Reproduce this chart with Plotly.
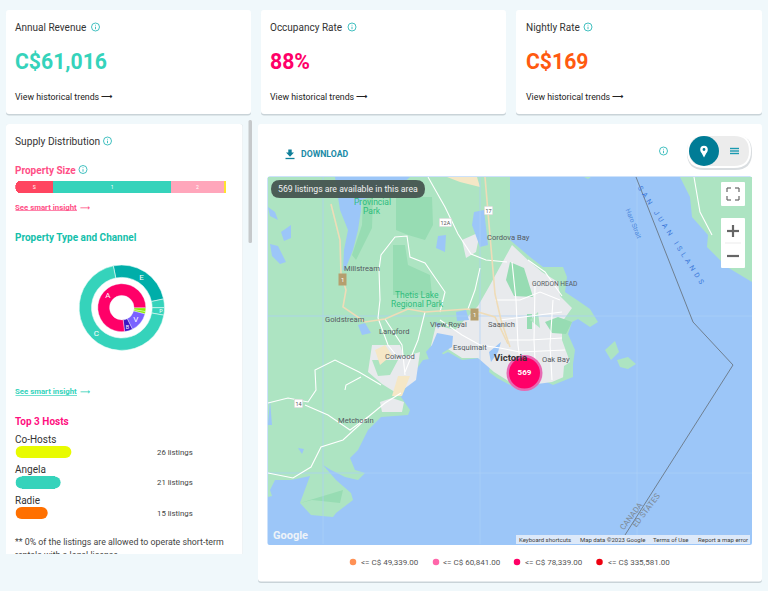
import plotly.graph_objects as go

# ---------- chart data ----------
kpi_titles = ["Annual Revenue", "Occupancy Rate", "Nightly Rate"]
kpi_values = ["C$61,016", "88%", "C$169"]
size_labels = ["S", "1", "2", ""]
size_values = [18, 56, 25, 1]
outer_labels = ["E", "", "P", "C"]
outer_values = [24.9, 3.3, 2.8, 69.0]
inner_labels = ["", " ", "V", "B", "A"]
inner_values = [2.6, 1.6, 13.5, 5.5, 76.8]
host_names = ["Co-Hosts", "Angela", "Radie"]
host_listings = [26, 21, 15]
legend_labels = ["<= C$ 49,339.00", "<= C$ 60,841.00", "<= C$ 78,339.00", "<= C$ 335,581.00"]
cluster_count = [569]

# ---------- base-map geography (decorative, in map pixels) ----------
land_main = [(268,177),(510,177),(510,240),(530,257),(543,267),(563,267),(567,277),(565,292),(577,300),(590,309),(598,322),(590,327),(578,319),(572,322),(568,334),(575,350),(573,364),(573,377),(553,385),(543,380),(530,388),(512,386),(497,378),(489,372),(490,366),(505,362),(495,355),(480,358),(462,360),(448,352),(436,358),(423,360),(411,377),(401,397),(410,410),(408,415),(381,417),(368,430),(358,450),(350,458),(355,470),(365,473),(358,480),(345,477),(331,470),(323,465),(336,480),(351,493),(353,500),(336,513),(333,517),(311,515),(300,503),(310,476),(291,480),(275,480),(270,490),(272,496),(268,497)]
land_east = [(680,177),(690,197),(692,217),(708,235),(707,247),(727,267),(752,282),(752,177)]
islets = [[(605,350),(615,341),(619,352),(611,360)],[(617,360),(628,357),(636,364),(628,369),(620,367)],[(584,177),(591,177),(588,179)]]
parks = [[(363,197),(373,197),(372,228),(356,260),(352,255),(362,225)],
         [(396,197),(432,197),(433,225),(425,240),(408,235),(396,230)],
         [(393,245),(405,245),(408,265),(430,275),(432,295),(393,295)],
         [(510,262),(524,268),(533,297),(514,296),(506,280)],
         [(545,322),(558,317),(572,322),(566,334),(552,333)],
         [(527,314),(532,314),(532,329),(527,329)],
         [(343,490),(300,503),(312,500),(340,503)]]
urban = [[(455,330),(478,306),(490,285),(505,258),(512,245),(530,262),(542,272),(558,282),(560,296),(572,308),(562,322),(562,340),(570,362),(566,376),(552,382),(530,385),(510,382),(494,372),(478,358),(462,358),(448,349),(430,350),(436,325)],
         [(372,345),(400,345),(408,368),(398,394),(382,384),(368,372)],
         [(386,362),(420,352),(416,380),(400,392)],
         [(380,402),(392,398),(404,402),(402,412),(382,412)],
         [(462,240),(480,232),(476,252),(466,258)]]
beige = [[(447,177),(477,177),(480,187),(460,182)],[(398,376),(410,376),(402,396),(392,396)],[(375,350),(385,345),(392,355),(380,365)]]
green_in_urban = [[(372,360),(398,360),(390,375),(378,376)],[(530,320),(538,312),(540,328)],[(564,366),(570,362),(571,376),(563,378)]]
water_bits = [[(335,177),(410,177),(395,190),(361,200),(361,210),(358,230),(353,250),(345,270),(343,270),(344,250),(348,230),(340,210)],
              [(270,244),(278,246),(286,262),(280,264),(272,256)],[(281,232),(291,225),(291,238),(284,241)],[(268,207),(275,212),(278,220),(270,216)],
              [(438,236),(446,235),(445,252),(436,248)],[(474,212),(484,210),(488,245),(480,247),(472,225)],
              [(358,325),(365,323),(371,333),(362,335)],[(456,312),(466,310),(469,320),(457,321)],
              [(435,322),(441,324),(438,329)],[(437,333),(453,336),(452,347),(442,353),(446,359),(430,362),(426,352),(432,345)],
              [(489,352),(501,342),(498,352),(491,362)],[(298,448),(304,449),(302,454)],[(270,400),(272,425),(268,425)]]
highways = [[(331,204),(340,240),(341,274),(346,290),(343,307),(365,322),(385,319),(408,309),(425,312),(468,309),(495,317),(508,344)],
            [(485,177),(491,244),(495,294),(501,320),(510,347)]]
roads = [[(428,177),(445,207),(458,234),(471,254),(486,260),(507,262)],
         [(379,270),(381,255),(395,237),(407,236),(410,257),(425,263),(445,292),(440,312)],
         [(379,270),(380,300),(378,318)],
         [(268,403),(288,398),(308,402),(316,390),(315,370),(335,360),(359,372),(381,385)],
         [(305,405),(328,415),(350,430),(368,417),(385,403),(401,393)],
         [(368,417),(343,440),(321,447),(311,467),(293,478),(268,473)],
         [(345,390),(346,385),(361,377)],
         [(378,318),(388,345),(400,360)],[(385,319),(402,345),(405,375)],
         [(468,309),(475,290),(480,268)],[(425,312),(418,340),(405,372)],
         [(495,300),(520,300),(540,292),(560,300)],[(500,320),(530,316),(562,312)],[(505,340),(530,340),(562,338)],
         [(480,345),(500,348),(520,352),(565,350)],[(512,262),(516,300),(518,345),(522,375)],[(535,285),(534,340),(536,382)],[(553,300),(550,345),(552,380)],
         [(440,320),(462,335),(480,345)],[(694,177),(700,212),(712,235)],[(528,260),(545,272),(562,296)]]
boundary = [(636,177),(693,322),(733,365),(625,535)]
grid_lines = [[(323,177),(323,544)],[(480,177),(480,544)],[(637,177),(637,544)],[(268,316),(752,316)],[(268,473),(752,473)]]

def xs(p): return [q[0] for q in p]
def ys(p): return [q[1] for q in p]
def joined(paths, close=False):
    X, Y = [], []
    for p in paths:
        X += xs(p) + ([p[0][0]] if close else []) + [None]
        Y += ys(p) + ([p[0][1]] if close else []) + [None]
    return X, Y

W, H = 768, 591
TEAL = "#35d3bb"
fig = go.Figure()

def fill(paths, color):
    X, Y = joined(paths, True)
    fig.add_trace(go.Scatter(x=X, y=Y, mode="lines", fill="toself", fillcolor=color,
                             line=dict(width=0, color=color), hoverinfo="skip", showlegend=False))
def stroke(paths, color, width):
    X, Y = joined(paths)
    fig.add_trace(go.Scatter(x=X, y=Y, mode="lines", line=dict(width=width, color=color),
                             hoverinfo="skip", showlegend=False))

fill([land_main, land_east] + islets, "#ade4c2")
fill(urban, "#e8eaed")
fill(parks, "#97dcb3")
fill(green_in_urban, "#ade4c2")
fill(beige, "#f5e7c6")
fill(water_bits, "#9cc6f8")
stroke(grid_lines, "#aed0f8", 0.7)
stroke(roads, "#ffffff", 1.1)
stroke(highways, "#efdcb8", 1.6)
stroke([boundary], "#6f7f90", 1)

# cluster marker
fig.add_trace(go.Scatter(x=[524.5], y=[373], mode="markers", marker=dict(size=36, color="#e76ab3"),
                         hoverinfo="skip", showlegend=False))
fig.add_trace(go.Scatter(x=[524.5], y=[373], mode="markers+text", text=[str(v) for v in cluster_count],
                         textposition="middle center", textfont=dict(family="Roboto", size=8, color="white", weight="bold"),
                         marker=dict(size=31, color="#ff0068"), hoverinfo="skip", showlegend=False))

# legend row
legend_x = [353, 436, 517, 599.5]
legend_c = ["#ff9155", "#ff66aa", "#ff0066", "#ee0010"]
fig.add_trace(go.Scatter(x=legend_x, y=[562]*4, mode="markers", marker=dict(size=6.5, color=legend_c),
                         hoverinfo="skip", showlegend=False))

# clipped final line of the scrolling card (real text behind the cover shape)
fig.add_trace(go.Scatter(x=[15], y=[556], mode="text", text=["rentals with a legal license"], textposition="middle right",
                         textfont=dict(family="Roboto", size=8.8, color="#444"), hoverinfo="skip", showlegend=False))

# property size stacked bar (axis reversed so the rounded end falls on the left)
size_colors = ["#ff4560", TEAL, "#ffa6bb", "#ffe22e"]
for lab, val, col in reversed(list(zip(size_labels, size_values, size_colors))):
    fig.add_trace(go.Bar(x=[val], y=[0], orientation="h", xaxis="x2", yaxis="y2", width=1,
                         marker=dict(color=col, line=dict(width=0), cornerradius=5), text=[lab], textposition="inside",
                         insidetextanchor="middle", textangle=0, textfont=dict(family="Roboto", size=8.5, color="white"),
                         hoverinfo="skip", showlegend=False))

# host bars: a round cap sits on both ends of each bar
host_colors = ["#e8fb00", TEAL, "#ff7000"]
cap = 2.8
fig.add_trace(go.Bar(x=[v-2*cap for v in host_listings], y=host_names, base=[cap]*3, orientation="h", xaxis="x3", yaxis="y3", width=0.394,
                     marker=dict(color=host_colors, line=dict(width=0), cornerradius=0), hoverinfo="skip", showlegend=False))
fig.add_trace(go.Scatter(x=[cap]*3 + [v-cap for v in host_listings], y=host_names*2, mode="markers", xaxis="x3", yaxis="y3",
                         marker=dict(size=12, color=host_colors*2, line=dict(width=0)), hoverinfo="skip", showlegend=False))

# donuts
cx, cy = 121.8, 307.7
def dom(r):
    return dict(x=[(cx-r)/W, (cx+r)/W], y=[1-(cy+r)/H, 1-(cy-r)/H])
fig.add_trace(go.Pie(values=outer_values, labels=outer_labels, text=outer_labels, textinfo="text", domain=dom(42.7), hole=0.71,
                     sort=False, direction="clockwise", rotation=348.5, insidetextorientation="horizontal", textposition="inside",
                     marker=dict(colors=["#00aea9", TEAL, TEAL, TEAL], line=dict(color="#e8fbf8", width=0.6)),
                     textfont=dict(family="Roboto", size=8, color="white"), hoverinfo="skip", showlegend=False))
fig.add_trace(go.Pie(values=inner_values, labels=inner_labels, text=inner_labels, textinfo="text", domain=dom(24), hole=0.51,
                     sort=False, direction="clockwise", rotation=90, insidetextorientation="horizontal", textposition="inside",
                     marker=dict(colors=["#8cee00", "#8cee00", "#7a62ff", "#3b17c4", "#ff0068"], line=dict(color="#f4f4ff", width=0.4)),
                     textfont=dict(family="Roboto", size=8, color="white"), hoverinfo="skip", showlegend=False))

# ---------- page furniture ----------
shapes = []
def rrect(x0, y0, x1, y1, r):
    return (f"M{x0+r},{y0} L{x1-r},{y0} Q{x1},{y0} {x1},{y0+r} L{x1},{y1-r} Q{x1},{y1} {x1-r},{y1} "
            f"L{x0+r},{y1} Q{x0},{y1} {x0},{y1-r} L{x0},{y0+r} Q{x0},{y0} {x0+r},{y0} Z")
def box(x0, y0, x1, y1, r, color, layer="below", line=None, lw=0):
    shapes.append(dict(type="path", path=rrect(x0, y0, x1, y1, r), fillcolor=color, layer=layer,
                       line=dict(color=line or color, width=lw), xref="x", yref="y"))
def circ(cx_, cy_, r, color, layer="above", line=None, lw=0):
    shapes.append(dict(type="circle", x0=cx_-r, x1=cx_+r, y0=cy_-r, y1=cy_+r, fillcolor=color, layer=layer,
                       line=dict(color=line or color, width=lw), xref="x", yref="y"))
def seg(x0, y0, x1, y1, color, w=1):
    shapes.append(dict(type="line", x0=x0, y0=y0, x1=x1, y1=y1, layer="above", line=dict(color=color, width=w), xref="x", yref="y"))

for x0, x1 in [(6, 251), (261, 506), (516, 762)]:
    box(x0, 11.5, x1, 115.5, 3, "#c9d3d8")
    box(x0, 10, x1, 114, 3, "#ffffff")
box(258, 125.5, 762, 583, 3, "#c9d3d8")
box(258, 124, 762, 581.5, 3, "#ffffff")
box(6, 124, 243, 560, 3, "#dde6ea")
box(6, 124, 242.5, 560, 3, "#ffffff")
box(248.5, 120, 252, 243, 1.5, "#c6c9cb")
# page below the scrolling card
shapes.append(dict(type="rect", x0=0, x1=256, y0=554, y1=591, fillcolor="#f0f8fb", line=dict(width=0), layer="above", xref="x", yref="y"))
# map sheet
box(267.5, 176.5, 752, 545, 2, "#9cc6f8")
# badge and controls
box(271, 180, 425, 198, 9, "rgba(70,85,80,0.95)", "above")
box(721, 182, 745, 206, 1, "#ffffff", "above")
box(721, 218, 745, 268, 1, "#ffffff", "above")
seg(725, 243, 741, 243, "#e6e6e6", 0.8)
seg(727, 231, 739, 231, "#666666", 2.2); seg(733, 225, 733, 237, "#666666", 2.2)
seg(727, 256, 739, 256, "#666666", 2.2)
for (a, b, c, d) in [(727,188,727,192),(727,188,731,188),(739,188,735,188),(739,188,739,192),
                     (727,200,727,196),(727,200,731,200),(739,200,735,200),(739,200,739,196)]:
    seg(a, b, c, d, "#666666", 1.2)
box(516, 535, 750, 544, 0, "rgba(228,236,248,0.9)", "above")
# toggle
box(687, 135, 752, 170, 17, "#d9dde0", "above")
box(687, 134, 751, 168, 17, "#ffffff", "above")
box(689, 136, 749, 166, 15, "#ececec", "above")
circ(704, 151, 15, "#007c96")
circ(704, 149.5, 3.8, "#ffffff"); circ(704, 149.5, 1.4, "#007c96")
shapes.append(dict(type="path", path="M700.8,151.5 L704,157.5 L707.2,151.5 Z", fillcolor="#ffffff", line=dict(width=0), layer="above", xref="x", yref="y"))
for yy in (148.5, 151, 153.5):
    seg(730, yy, 739, yy, "#1a9ab0", 1.4)
# download icon
seg(285.5, 158.5, 294.5, 158.5, "#0f7f9a", 1.3)
shapes.append(dict(type="path", path="M288.3,149.5 L291.7,149.5 L291.7,152.5 L294,152.5 L290,156.8 L286,152.5 L288.3,152.5 Z", fillcolor="#0f7f9a", line=dict(width=0), layer="above", xref="x", yref="y"))
# info icons
info = [(95.5, 27), (352, 27), (588, 27), (107.5, 141), (83, 169.5), (663.5, 151)]
for ix, iy in info:
    circ(ix, iy, 4, "rgba(255,255,255,0)", line="#2fb9b9", lw=0.9)
    seg(ix, iy-0.3, ix, iy+2.2, "#2fb9b9", 0.9); seg(ix, iy-2.2, ix, iy-1.4, "#2fb9b9", 0.9)
# text-link underlines
seg(15.5, 210.5, 77, 210.5, "#ff4f86", 0.7)
seg(15.5, 395.5, 77, 395.5, TEAL, 0.7)

# ---------- texts ----------
ann = []
def T(x, y, s, size=9, color="#333", bold=False, anchor="left", angle=0, family="Roboto"):
    ann.append(dict(x=x-2.5 if anchor == "left" else x, y=y, xref="x", yref="y", text=f"<b>{s}</b>" if bold else s, showarrow=False, xanchor=anchor, yanchor="middle",
                    textangle=angle, font=dict(family=family, size=size, color=color)))

kpi_cols = [TEAL, "#ff0068", "#ff5a10"]
for x0, t, v, c in zip([15.5, 270.5, 526], kpi_titles, kpi_values, kpi_cols):
    T(x0, 27, t, 10, "#333")
    T(x0, 61, v, 21.2, c, True)
    T(x0, 96.5, "View historical trends", 8.8, "#222")
for x0 in (107, 362, 618):
    T(x0, 96, "⟶", 8, "#222", True, anchor="center", family="DejaVu Sans")

T(15.5, 141, "Supply Distribution", 10.2, "#333")
T(15.5, 170, "Property Size", 10, "#ff4f86", True)
T(15.5, 207, "See smart insight", 7.8, "#ff4f86", True)
T(84.5, 207.5, "⟶", 7, "#ff4f86", True, anchor="center", family="DejaVu Sans")
T(15.5, 237, "Property Type and Channel", 10, "#14c0ab", True)
T(15.5, 391.5, "See smart insight", 7.8, TEAL, True)
T(84.5, 391.5, "⟶", 7, TEAL, True, anchor="center", family="DejaVu Sans")
T(15.5, 421, "Top 3 Hosts", 10, "#ff0f7f", True)
for y0, n, v in zip([439, 469.5, 500], host_names, host_listings):
    T(15.5, y0, n, 10, "#333")
    T(157, y0+13, f"{v} listings", 7.8, "#444")
T(15.5, 542, "** 0% of the listings are allowed to operate short-term", 8.8, "#444")

T(301, 154, "DOWNLOAD", 8.7, "#1a8aa6", True)
T(348, 189, f"{cluster_count[0]} listings are available in this area", 8.7, "#f2f2f2", anchor="center")

for x0, s in zip([361, 443, 525, 608], legend_labels):
    T(x0, 562, s, 8, "#555")

# map labels
for x0, y0, s in [(362,268,"Millstream"),(345,319,"Goldstream"),(393.5,331,"Langford"),(400,356,"Colwood"),
                  (356,420,"Metchosin"),(448,324,"View Royal"),(501,324,"Saanich"),
                  (470,347,"Esquimalt"),(556,359,"Oak Bay"),(508,237,"Cordova Bay"),(554,284,"GORDON HEAD")]:
    T(x0, y0, s, 6.6 if s == "GORDON HEAD" else 7.6, "#555a62", anchor="center")
T(510, 357.5, "<b>Victoria</b>", 9.5, "#333", anchor="center")
T(372, 202, "Provincial", 8.5, "#2fbd7d", anchor="center")
T(372, 211, "Park", 8.5, "#2fbd7d", anchor="center")
T(417, 295, "Thetis Lake", 8.5, "#2fbd7d", anchor="center")
T(417, 304, "Regional Park", 8.5, "#2fbd7d", anchor="center")
nb = "\u00a0"
spaced = lambda w: (nb*2).join(w)
T(670.5, 235, (nb*5).join(spaced(w) for w in ["SAN", "JUAN", "ISLANDS"]), 7, "#3b78d8", angle=57, anchor="center")
T(633, 223, "Haro Strait", 6.6, "#4a86dc", angle=68, anchor="center")
T(631, 516, "CANADA", 8, "#7d8a96", angle=-53, anchor="center")
T(646, 510, "ED STATES", 8, "#7d8a96", angle=-53, anchor="center")
T(290, 535, "<b>Google</b>", 11, "#eef3f8", anchor="center")
for x0, s in [(545,"Keyboard shortcuts"),(612,"Map data ©2023 Google"),(671,"Terms of Use"),(722.5,"Report a map error")]:
    T(x0, 539.7, s, 6, "#3c3c3c", anchor="center")
# route shields
for x0, y0, s in [(488,210,"17"),(445,222,"12A"),(298,403,"14")]:
    ann.append(dict(x=x0, y=y0, xref="x", yref="y", text=s, showarrow=False, font=dict(family="Roboto", size=5.5, color="#555"),
                    bgcolor="white", bordercolor="#cfcfcf", borderwidth=0.5, borderpad=1))
for x0, y0 in [(342,279),(474,314)]:
    ann.append(dict(x=x0, y=y0, xref="x", yref="y", text="1", showarrow=False, font=dict(family="Roboto", size=6, color="white"),
                    bgcolor="#b59f6e", borderpad=2))

hidden = dict(visible=False, fixedrange=True)
fig.update_layout(
    width=W, height=H, margin=dict(l=0, r=0, t=0, b=0), autosize=False,
    paper_bgcolor="#f0f8fb", plot_bgcolor="rgba(0,0,0,0)", barmode="stack", showlegend=False,
    hovermode=False, font=dict(family="Roboto"),
    xaxis=dict(range=[0, W], domain=[0, 1], **hidden),
    yaxis=dict(range=[H, 0], domain=[0, 1], **hidden),
    xaxis2=dict(range=[100, 0], domain=[15.3/W, 226/W], anchor="y2", **hidden),
    yaxis2=dict(range=[-0.5, 0.5], domain=[1-193/H, 1-181/H], anchor="x2", **hidden),
    xaxis3=dict(range=[0, 100], domain=[15.5/W, 230.5/W], anchor="y3", **hidden),
    yaxis3=dict(type="category", categoryorder="array", categoryarray=host_names, range=[2.5, -0.5],
                domain=[1-528.25/H, 1-436.75/H], anchor="x3", **hidden),
    shapes=shapes, annotations=ann,
)
fig.write_html("out.html", config=dict(displayModeBar=False),
               post_script="document.body.style.margin='0';document.body.style.background='#f0f8fb';document.documentElement.style.overflow='hidden';")
